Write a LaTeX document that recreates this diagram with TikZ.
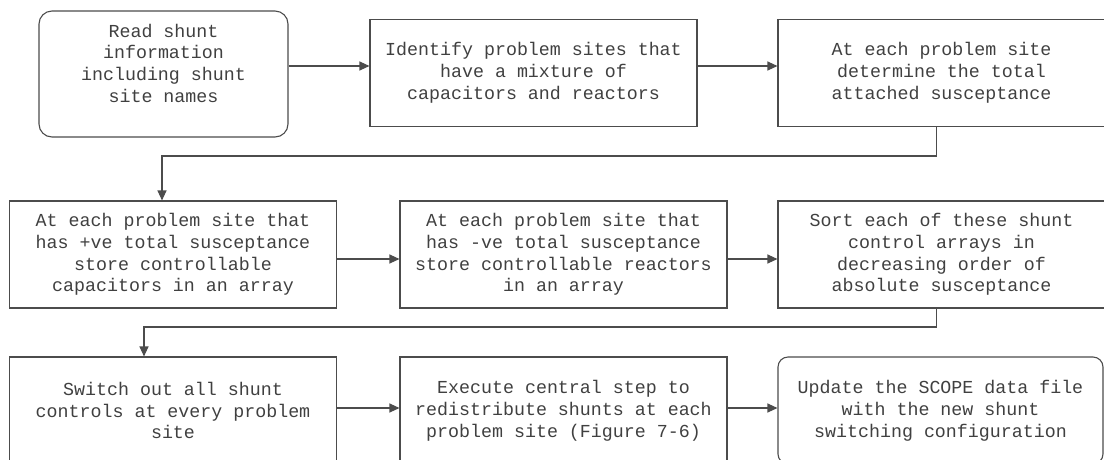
\documentclass[tikz,border=0pt]{standalone}
\usepackage{fontspec}
\newfontfamily\monofont{Liberation Mono}
\usetikzlibrary{arrows.meta}

\begin{document}
\begin{tikzpicture}[x=1pt, y=-1pt,
        box/.style={draw=black!70, line width=1.1pt, text=black!75, align=center, inner sep=0pt, minimum width=327pt, minimum height=107pt, font=\monofont\fontsize{18.3}{21.8}\selectfont},
        arr/.style={-{Triangle[length=10pt,width=9pt]}, draw=black!70, line width=1.1pt}]
        \useasboundingbox (0,0) rectangle (1104,459);

        \node[box, rounded corners=13pt, minimum width=249pt, minimum height=126pt] (read) at (163.5,74) {Read shunt\\information\\including shunt\\site names\\\mbox{}};
        \node[box] (identify) at (533.5,73) {Identify problem sites that\\have a mixture of\\capacitors and reactors};
        \node[box] (total) at (941.5,73) {At each problem site\\determine the total\\attached susceptance};

        \node[box] (storecap) at (173,254.5) {At each problem site that\\has +ve total susceptance\\store controllable\\capacitors in an array};
        \node[box] (storereac) at (563.5,254.5) {At each problem site that\\has -ve total susceptance\\store controllable reactors\\in an array};
        \node[box] (sortarr) at (941.5,254.5) {Sort each of these shunt\\control arrays in\\decreasing order of\\absolute susceptance};

        \node[box] (switchout) at (173,410.5) {Switch out all shunt\\controls at every problem\\site};
        \node[box] (execute) at (563.5,410.5) {Execute central step to\\redistribute shunts at each\\problem site (Figure 7-6)};
        \node[box, rounded corners=10pt, minimum width=325pt] (update) at (940.5,410.5) {Update the SCOPE data file\\with the new shunt\\switching configuration};

        \coordinate (turnA) at (162,156);
        \coordinate (turnB) at (144,327);

        \draw[arr] ([yshift=8]read.east) -- ([yshift=7]identify.west);
        \draw[arr] ([yshift=7]identify.east) -- ([yshift=7]total.west);
        \draw[arr] ([xshift=-5]total.south) |- (turnA) -- (turnA |- storecap.north);
        \draw[arr] ([yshift=-4.5]storecap.east) -- ([yshift=-4.5]storereac.west);
        \draw[arr] ([yshift=-4.5]storereac.east) -- ([yshift=-4.5]sortarr.west);
        \draw[arr] ([xshift=-5]sortarr.south) |- (turnB) -- (turnB |- switchout.north);
        \draw[arr] ([yshift=2.5]switchout.east) -- ([yshift=2.5]execute.west);
        \draw[arr] ([yshift=2.5]execute.east) -- ([yshift=2.5]update.west);
    \end{tikzpicture}
\end{document}
